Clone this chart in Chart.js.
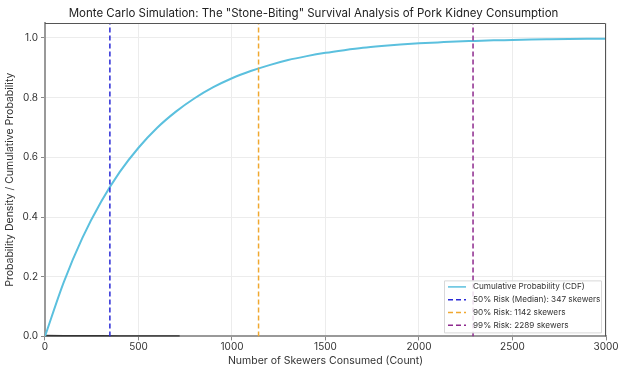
<!DOCTYPE html>
<html>
<head>
<meta charset="utf-8">
<script src="https://cdn.jsdelivr.net/npm/chart.js@4.4.0/dist/chart.umd.min.js"></script>
<style>
  html, body { margin: 0; padding: 0; background: #fff; }
  #wrap { width: 627px; height: 376px; position: relative; }
</style>
</head>
<body>
<div id="wrap"><canvas id="mcChart"></canvas></div>
<script>
// Valores (a cada 100 espetos)
const skewers = [0, 100, 200, 300, 400, 500, 600, 700, 800, 900, 1000, 1100, 1200, 1300, 1400, 1500, 1600, 1700, 1800, 1900, 2000, 2100, 2200, 2300, 2400, 2500, 2600, 2700, 2800, 2900, 3000];
const cdfValues = [0, 0.181, 0.330, 0.451, 0.551, 0.632, 0.699, 0.753, 0.798, 0.835, 0.865, 0.889, 0.909, 0.926, 0.939, 0.950, 0.959, 0.967, 0.973, 0.978, 0.982, 0.985, 0.988, 0.990, 0.992, 0.993, 0.9945, 0.9955, 0.9963, 0.997, 0.9975];

// densidade (histograma) quase colada no zero
const pdfX = [0, 100, 200, 300, 400, 500, 600, 720];
const pdfValues = [0.002, 0.0016, 0.0013, 0.0011, 0.0009, 0.0007, 0.0006, 0.0005];

const riskLabels = ['50% Risk (Median): 347 skewers', '90% Risk: 1142 skewers', '99% Risk: 2289 skewers'];
const riskValues = [347, 1142, 2289];
const riskColors = ['#2a2ad6', '#f0a830', '#8e2a8e'];

const xTicks = [0, 500, 1000, 1500, 2000, 2500, 3000];
const yTicks = [0, 0.2, 0.4, 0.6, 0.8, 1.0];

const chartTitle = 'Monte Carlo Simulation: The "Stone-Biting" Survival Analysis of Pork Kidney Consumption';

const FONT = 'Inter, "Open Sans", sans-serif';

function pontos(xs, ys) {
    return xs.map((x, i) => ({ x: x, y: ys[i] }));
}

const datasets = [
    {
        label: 'Cumulative Probability (CDF)',
        data: pontos(skewers, cdfValues),
        borderColor: '#5bc0de',
        borderWidth: 2,
        pointRadius: 0,
        cubicInterpolationMode: 'monotone',
        fill: false,
        order: 1
    },
    {
        label: 'pdf',
        data: pontos(pdfX, pdfValues),
        borderColor: '#333333',
        borderWidth: 2,
        pointRadius: 0,
        fill: false,
        order: 2
    }
];

riskValues.forEach((v, i) => {
    datasets.push({
        label: riskLabels[i],
        data: [{ x: v, y: 0 }, { x: v, y: 1.05 }],
        borderColor: riskColors[i],
        borderWidth: 1.5,
        borderDash: [5, 3],
        pointRadius: 0,
        fill: false,
        order: 0
    });
});

// Título centrado na página, moldura e legenda dentro da área
const framePlugin = {
    id: 'frame',
    afterDraw(chart) {
        const { ctx, chartArea: a } = chart;
        ctx.save();

        ctx.fillStyle = '#222';
        ctx.font = '11.5px ' + FONT;
        ctx.textAlign = 'center';
        ctx.textBaseline = 'middle';
        ctx.fillText(chartTitle, chart.width / 2, 14);
        ctx.textAlign = 'left';

        ctx.strokeStyle = '#555';
        ctx.lineWidth = 1;
        ctx.beginPath();
        ctx.moveTo(a.left, a.top + 0.5);
        ctx.lineTo(a.right - 0.5, a.top + 0.5);
        ctx.lineTo(a.right - 0.5, a.bottom);
        ctx.stroke();

        // legenda
        const itens = chart.data.datasets.filter(d => d.label !== 'pdf');
        const boxW = 157, rowH = 12.8, boxH = 52;
        const bx = a.right - boxW - 5, by = a.bottom - boxH - 4;
        ctx.fillStyle = 'rgba(255,255,255,0.85)';
        ctx.strokeStyle = '#d8d8d8';
        ctx.lineWidth = 1;
        ctx.beginPath();
        ctx.rect(bx + 0.5, by + 0.5, boxW, boxH);
        ctx.fill();
        ctx.stroke();
        ctx.font = '8.2px ' + FONT;
        ctx.textBaseline = 'middle';
        itens.forEach((d, i) => {
            const y = by + 6.5 + rowH * i;
            ctx.strokeStyle = d.borderColor;
            ctx.lineWidth = 1.5;
            ctx.setLineDash(d.borderDash || []);
            ctx.beginPath();
            ctx.moveTo(bx + 4, y);
            ctx.lineTo(bx + 22, y);
            ctx.stroke();
            ctx.setLineDash([]);
            ctx.fillStyle = '#333';
            ctx.fillText(d.label, bx + 29, y);
        });
        ctx.restore();
    }
};

const ctx = document.getElementById('mcChart').getContext('2d');
new Chart(ctx, {
    type: 'line',
    data: { datasets: datasets },
    options: {
        responsive: true,
        maintainAspectRatio: false,
        animation: false,
        layout: { padding: { left: 4, right: 21, top: 23, bottom: 9 } },
        scales: {
            x: {
                type: 'linear',
                min: 0,
                max: 3000,
                afterBuildTicks: axis => { axis.ticks = xTicks.map(v => ({ value: v })); },
                ticks: { color: '#333', font: { family: FONT, size: 10 }, padding: 1, maxRotation: 0, callback: v => String(v) },
                grid: { color: '#ececec', tickLength: 4, tickColor: '#888' },
                border: { color: '#999', width: 2 },
                title: { display: true, text: 'Number of Skewers Consumed (Count)', color: '#333', font: { family: FONT, size: 10.5 }, padding: { top: 0, bottom: 0 } }
            },
            y: {
                min: 0,
                max: 1.05,
                afterBuildTicks: axis => { axis.ticks = yTicks.map(v => ({ value: v })); },
                ticks: { color: '#333', font: { family: FONT, size: 10 }, padding: 3, callback: v => v.toFixed(1) },
                grid: { color: '#ececec', tickLength: 4, tickColor: '#888' },
                border: { color: '#999', width: 2 },
                title: { display: true, text: 'Probability Density / Cumulative Probability', color: '#333', font: { family: FONT, size: 10.5 }, padding: { top: 0, bottom: 3 } }
            }
        },
        plugins: {
            legend: { display: false },
            tooltip: { enabled: false },
            title: { display: false }
        }
    },
    plugins: [framePlugin]
});
</script>
</body>
</html>
